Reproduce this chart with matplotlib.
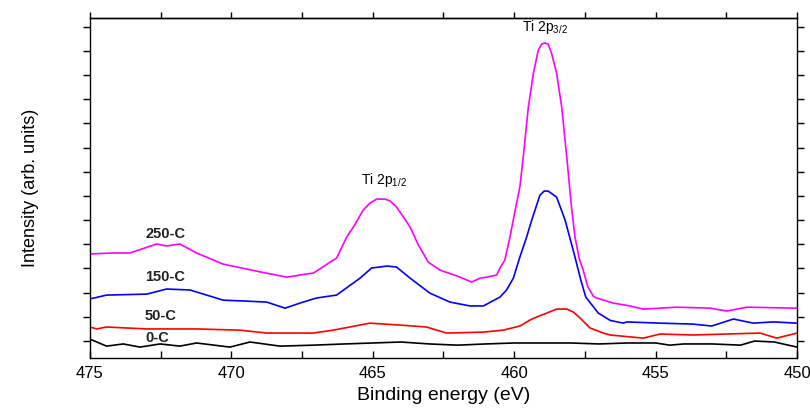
import matplotlib
matplotlib.use("Agg")
import matplotlib.pyplot as plt
from matplotlib.ticker import MultipleLocator, NullFormatter

plt.rcParams['font.family'] = ['Liberation Sans', 'DejaVu Sans']
plt.rcParams['mathtext.fontset'] = 'custom'
plt.rcParams['mathtext.rm'] = 'Liberation Sans'

# ---- data (binding energy in eV, intensity in arb. units) ----
e_250 = [475.0, 474.18, 473.59, 472.64, 472.29, 471.82, 471.23, 470.29, 469.11, 468.04,
         467.57, 467.10, 466.87, 466.51, 466.28, 465.92, 465.69, 465.34, 465.10, 464.86,
         464.57, 464.39, 464.16, 463.90, 463.68, 463.40, 463.04, 462.62, 462.03, 461.50,
         461.21, 460.97, 460.62, 460.50, 460.33, 460.15, 459.95, 459.80, 459.68, 459.50,
         459.32, 459.15, 459.03, 458.92, 458.80, 458.68, 458.50, 458.32, 458.14, 457.98,
         457.85, 457.70, 457.56, 457.40, 457.20, 457.09, 456.50, 455.91, 455.44, 454.26,
         453.08, 452.49, 451.78, 450.13, 450.0]
i_250 = [3.60, 3.64, 3.64, 4.01, 3.93, 4.01, 3.64, 3.18, 2.89, 2.64,
         2.73, 2.81, 2.98, 3.26, 3.43, 4.30, 4.70, 5.41, 5.70, 5.87,
         5.87, 5.79, 5.54, 5.10, 4.71, 4.00, 3.26, 2.93, 2.69, 2.44,
         2.60, 2.64, 2.73, 3.02, 3.35, 4.30, 5.50, 6.36, 7.60, 9.67,
         11.07, 12.02, 12.27, 12.32, 12.27, 11.90, 11.07, 9.67, 7.60, 5.60,
         4.30, 3.40, 2.93, 2.25, 1.85, 1.78, 1.57, 1.45, 1.32, 1.40,
         1.36, 1.24, 1.40, 1.36, 1.36]

e_150 = [475.0, 474.41, 472.99, 472.29, 471.46, 470.29, 469.46, 468.75, 468.10, 467.57,
         467.10, 466.98, 466.28, 465.45, 465.04, 464.75, 464.50, 464.16, 463.68, 462.98,
         462.27, 461.56, 461.09, 460.50, 460.27, 460.03, 459.80, 459.56, 459.38, 459.09,
         458.94, 458.80, 458.50, 458.20, 457.85, 457.64, 457.47, 457.03, 456.60, 456.14,
         456.02, 454.84, 453.67, 453.02, 452.25, 451.55, 450.84, 450.0]
i_150 = [1.74, 1.90, 1.94, 2.15, 2.11, 1.69, 1.65, 1.61, 1.36, 1.57,
         1.74, 1.78, 1.90, 2.60, 3.02, 3.06, 3.10, 3.06, 2.60, 1.98,
         1.61, 1.45, 1.45, 1.82, 2.11, 2.60, 3.47, 4.30, 5.00, 6.03,
         6.20, 6.20, 5.95, 5.00, 3.47, 2.50, 1.82, 1.16, 0.85, 0.74,
         0.79, 0.74, 0.70, 0.62, 0.91, 0.74, 0.79, 0.74]

e_50 = [475.0, 474.76, 474.41, 472.99, 471.23, 469.70, 468.75, 467.57, 467.10, 466.40,
        465.10, 464.04, 463.10, 462.39, 461.09, 460.39, 459.80, 459.44, 459.21, 458.50,
        458.14, 457.91, 457.67, 457.32, 456.85, 456.61, 455.44, 454.84, 453.67, 451.31,
        450.72, 450.0]
i_50 = [0.58, 0.50, 0.58, 0.50, 0.50, 0.45, 0.33, 0.33, 0.33, 0.45,
        0.74, 0.66, 0.58, 0.33, 0.37, 0.45, 0.62, 0.87, 0.99, 1.32,
        1.32, 1.20, 0.95, 0.54, 0.33, 0.25, 0.12, 0.29, 0.25, 0.33,
        0.12, 0.33]

e_0 = [475.0, 474.41, 473.82, 473.23, 472.52, 471.82, 471.23, 470.05, 469.34, 468.28,
       467.10, 466.0, 465.0, 464.0, 463.0, 462.0, 461.0, 460.0, 459.0, 458.0,
       457.0, 456.0, 455.0, 454.5, 454.0, 453.0, 452.0, 451.5, 450.8, 450.0]
i_0 = [0.08, -0.21, -0.12, -0.25, -0.12, -0.21, -0.08, -0.25, -0.04, -0.21,
       -0.17, -0.12, -0.08, -0.04, -0.12, -0.17, -0.12, -0.08, -0.08, -0.08,
       -0.12, -0.08, -0.08, -0.17, -0.12, -0.12, -0.17, 0.0, -0.04, -0.25]

series_labels = ['250-C', '150-C', '50-C', '0-C']
series_colors = ['#ff00ff', '#0000ff', '#ff0000', '#000000']
label_y = [4.42, 2.64, 1.03, 0.12]
x_ticks = [475, 470, 465, 460, 455, 450]

fig = plt.figure(figsize=(8.10, 4.11), dpi=100)
ax = fig.add_axes([0.111, 0.129, 0.873, 0.827])

for e, i, c in zip([e_250, e_150, e_50, e_0], [i_250, i_150, i_50, i_0], series_colors):
    ax.plot(e, i, color=c, lw=1.2, solid_joinstyle='round')

for lab, y in zip(series_labels, label_y):
    ax.text(473.05, y, lab, fontsize=10.5, fontweight='bold', ha='left', va='center', color='#222222')

ax.text(464.6, 6.3, r'Ti 2p$_{\mathregular{1/2}}$', fontsize=10, ha='center', va='bottom')
ax.text(458.9, 12.6, r'Ti 2p$_{\mathregular{3/2}}$', fontsize=10, ha='center', va='bottom')

ax.set_xlim(475, 450)
ax.set_ylim(-0.70, 13.35)
ax.set_xticks(x_ticks)
ax.set_xticklabels([str(t) for t in x_ticks])
ax.xaxis.set_minor_locator(MultipleLocator(2.5))
ax.yaxis.set_major_locator(MultipleLocator(2))
ax.yaxis.set_minor_locator(MultipleLocator(1))
ax.yaxis.set_major_formatter(NullFormatter())

ax.tick_params(axis='x', which='both', direction='in', length=5, width=1.0, labelsize=12, top=False, pad=6)
ax.tick_params(axis='y', which='both', direction='out', length=5, width=1.0, left=True, right=True)

sec = ax.secondary_xaxis('top')
sec.set_xticks(x_ticks)
sec.xaxis.set_minor_locator(MultipleLocator(2.5))
sec.tick_params(axis='x', which='both', direction='out', length=4, width=1.0, labeltop=False)
sec.spines['top'].set_linewidth(1.0)

for s in ax.spines.values():
    s.set_linewidth(1.0)

ax.set_xlabel('Binding energy (eV)', fontsize=14, labelpad=4)
ax.set_ylabel('Intensity (arb. units)', fontsize=13, labelpad=28)

fig.savefig('out.png', dpi=100)
